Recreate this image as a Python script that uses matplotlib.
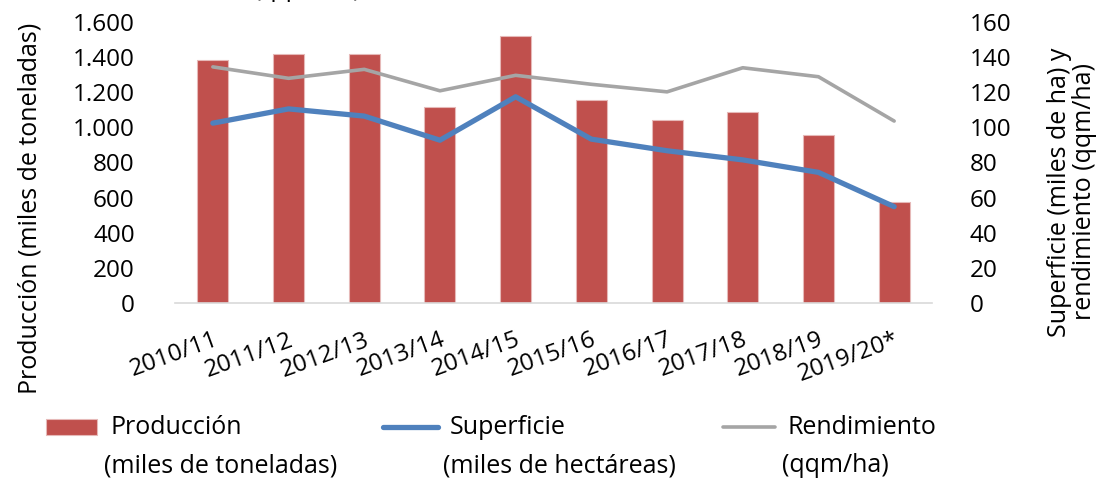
import numpy as np
import matplotlib
matplotlib.use('Agg')
import matplotlib.pyplot as plt
from matplotlib.patches import Rectangle
from matplotlib.lines import Line2D

campanas = ['2010/11', '2011/12', '2012/13', '2013/14', '2014/15',
            '2015/16', '2016/17', '2017/18', '2018/19', '2019/20*']
produccion = [1381, 1415, 1415, 1117, 1521, 1156, 1039, 1089, 954, 573]
superficie = [102.3, 110.4, 106.3, 92.6, 117.3, 93.2, 86.6, 81.4, 74.3, 54.8]
rendimiento = [134.3, 127.8, 132.9, 120.7, 129.5, 124.4, 120.1, 133.8, 128.7, 103.5]

ROJO = '#c0504d'
AZUL = '#4f81bd'
GRIS = '#a5a5a5'
FS = 18
FS_TICK = 17.5

plt.rcParams['font.family'] = ['Open Sans', 'DejaVu Sans']

W, H = 1103, 479
fig = plt.figure(figsize=(W / 100, H / 100), dpi=100)
ax = fig.add_axes([175 / W, 1 - 303 / H, (932 - 175) / W, (303 - 21.7) / H])
ax2 = ax.twinx()

x = np.arange(len(campanas))
ax.bar(x, produccion, width=0.41, color=ROJO, edgecolor='#e6b9b8', linewidth=0.8, zorder=2)
ax2.plot(x, rendimiento, color=GRIS, linewidth=2.6, solid_capstyle='round', zorder=3)
ax2.plot(x, superficie, color=AZUL, linewidth=3.8, solid_capstyle='round', zorder=4)

ax.set_xlim(-0.5, len(campanas) - 0.5)
ax.set_ylim(0, 1600)
ax2.set_ylim(0, 160)
ax.set_yticks(np.arange(0, 1601, 200))
ax.set_yticklabels([f'{v:,}'.replace(',', '.') for v in range(0, 1601, 200)])
ax2.set_yticks(np.arange(0, 161, 20))

ax.set_xticks(x)
ax.set_xticklabels(campanas, rotation=20, ha='right', rotation_mode='anchor')

for a in (ax, ax2):
    for s in a.spines.values():
        s.set_visible(False)
    a.tick_params(length=0, labelsize=FS_TICK)
ax.spines['bottom'].set_visible(True)
ax.spines['bottom'].set_color('#d9d9d9')
ax.spines['bottom'].set_linewidth(1.2)
ax.tick_params(axis='y', pad=29)
ax.tick_params(axis='x', pad=18)
ax2.tick_params(axis='y', pad=27)

fig.text(30 / W, 1 - 208 / H, 'Producción (miles de toneladas)', rotation=90,
         ha='center', va='center', fontsize=FS)
fig.text(1072 / W, 1 - 192 / H, 'Superficie (miles de ha) y\nrendimiento (qqm/ha)',
         rotation=90, ha='center', va='center', fontsize=FS, linespacing=1.05)
# título recortado en el original: sólo se ve el final de la última línea
fig.text(307 / W, 1 + 10 / H, '(qqm/ha)', ha='center', va='center', fontsize=FS)

# leyenda manual
fig.patches.append(Rectangle((46 / W, 1 - 435 / H), 51 / W, 16 / H,
                             transform=fig.transFigure, facecolor=ROJO,
                             edgecolor='#e6b9b8', linewidth=0.8))
fig.lines.append(Line2D([383 / W, 438 / W], [1 - 427 / H] * 2, transform=fig.transFigure,
                        color=AZUL, linewidth=3.8, solid_capstyle='round'))
fig.lines.append(Line2D([723 / W, 775 / W], [1 - 427 / H] * 2, transform=fig.transFigure,
                        color=GRIS, linewidth=2.6, solid_capstyle='round'))

entradas = [(110, 104, 'Producción', '(miles de toneladas)'),
            (450, 443, 'Superficie', '(miles de hectáreas)'),
            (788, 782, 'Rendimiento', '(qqm/ha)')]
for x1, x2, l1, l2 in entradas:
    fig.text(x1 / W, 1 - 427 / H, l1, ha='left', va='center', fontsize=FS)
    fig.text(x2 / W, 1 - 466 / H, l2, ha='left', va='center', fontsize=FS)

fig.savefig('out.png', dpi=100)
